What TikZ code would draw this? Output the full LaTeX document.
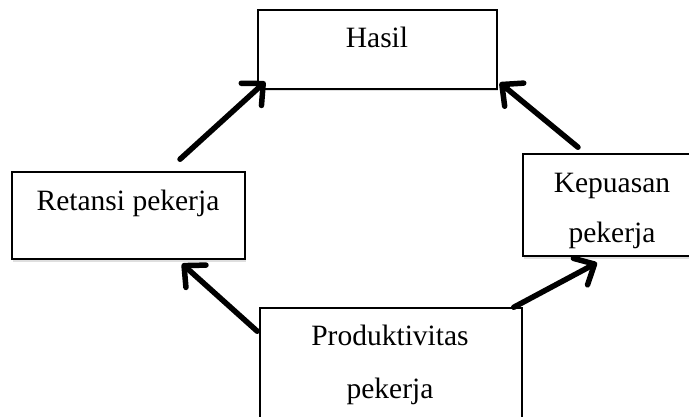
\documentclass[tikz,border=0pt]{standalone}
\usepackage{fontspec}
\setmainfont{Liberation Serif}
\usetikzlibrary{arrows.meta,shadows}

\begin{document}
\begin{tikzpicture}[x=1pt, y=1pt,
    box/.style={draw, line width=1.5pt, fill=white, inner sep=0pt,
        drop shadow={opacity=0.25, shadow xshift=1pt, shadow yshift=-2.5pt}},
    txt/.style={anchor=base, inner sep=0pt, font=\fontsize{29.5}{35}\selectfont},
    flow/.style={line width=5.5pt, line cap=round,
        -{Straight Barb[length=16pt, width=30pt, line width=5.5pt, line cap=round, line join=round]}}]
    % Page size
    \useasboundingbox (0,0) rectangle (689,416);
    \clip (0,0) rectangle (689,416);

    % The four boxes
    \node[box, minimum width=239, minimum height=79] (hasil) at (377.5,366.5) {};
    \node[box, minimum width=233, minimum height=87] (retansi) at (128.5,200.5) {};
    \node[box, minimum width=178, minimum height=102] (kepuasan) at (612,211) {};
    \node[box, minimum width=262, minimum height=122] (produktivitas) at (391,47) {};

    % Texts, near the top of each box
    \node[txt] (hasilTxt) at (377,368) {Hasil};
    \node[txt] (retansiTxt) at (128,206) {Retansi pekerja};
    \node[txt] (kepuasanTxtA) at (612,223) {Kepuasan};
    \node[txt] (kepuasanTxtB) at (612,174) {pekerja};
    \node[txt] (produktivitasTxtA) at (390,71) {Produktivitas};
    \node[txt] (produktivitasTxtB) at (390,18) {pekerja};

    % Arrows up to Hasil
    \draw[flow] ([shift={(51.5,12)}]retansi.north) -- ([shift={(8,8)}]hasil.south west);
    \draw[flow] ([shift={(-34,6)}]kepuasan.north) -- ([shift={(2,7)}]hasil.south east);

    % Arrows out of Produktivitas
    \draw[flow] ([shift={(-2,-24)}]produktivitas.north west) -- ([shift={(53.5,-4)}]retansi.south);
    \draw[flow] ([shift={(-9,0)}]produktivitas.north east) -- ([shift={(-15,-6)}]kepuasan.south);
\end{tikzpicture}
\end{document}
